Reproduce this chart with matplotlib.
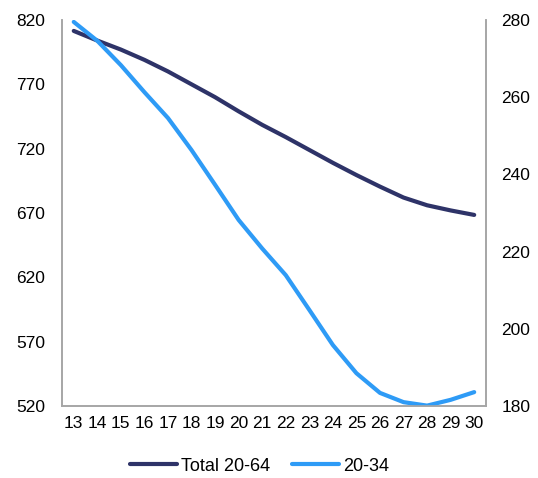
import matplotlib
matplotlib.use("Agg")
import matplotlib.pyplot as plt
import numpy as np

plt.rcParams['font.family'] = ['Liberation Sans', 'DejaVu Sans']

years = list(range(13, 31))
total_20_64 = [811.5, 804, 797, 789, 780, 770, 760, 749, 738.5, 729,
               719, 709, 699.5, 690.5, 682, 676, 672, 668.5]
age_20_34 = [279.5, 274.6, 268.3, 261.3, 254.6, 246.3, 237.3, 228.2, 220.8, 213.9,
             204.9, 195.8, 188.5, 183.4, 181.0, 180.1, 181.6, 183.6]

navy = '#2E3368'
light = '#2E9BF6'
spine_col = '#A6A6A6'

fig = plt.figure(figsize=(5.38, 4.78), dpi=100)
ax = fig.add_axes([0.1152, 0.1506, 0.7881, 0.8076])
ax2 = ax.twinx()

l1, = ax.plot(years, total_20_64, color=navy, lw=3, solid_capstyle='round', label='Total 20-64')
l2, = ax2.plot(years, age_20_34, color=light, lw=3, solid_capstyle='round', label='20-34')

ax.set_xlim(12.5, 30.5)
ax.set_ylim(520, 820)
ax.set_yticks(np.arange(520, 821, 50))
ax2.set_ylim(180, 280)
ax2.set_yticks(np.arange(180, 281, 20))
ax.set_xticks(years)

for a in (ax, ax2):
    a.spines['top'].set_visible(False)
    for s in ('left', 'right', 'bottom'):
        a.spines[s].set_color(spine_col)
        a.spines[s].set_linewidth(1.2)
    a.tick_params(length=0, labelsize=12.5, colors='black')
ax.tick_params(axis='y', pad=12)
ax.tick_params(axis='x', pad=7)
ax2.tick_params(axis='y', pad=11)

fig.legend(handles=[l1, l2], loc='center', bbox_to_anchor=(0.482, 0.025), ncol=2,
           frameon=False, fontsize=13, handlelength=2.6, columnspacing=1.2, handletextpad=0.22)

fig.savefig('out.png', dpi=100)
